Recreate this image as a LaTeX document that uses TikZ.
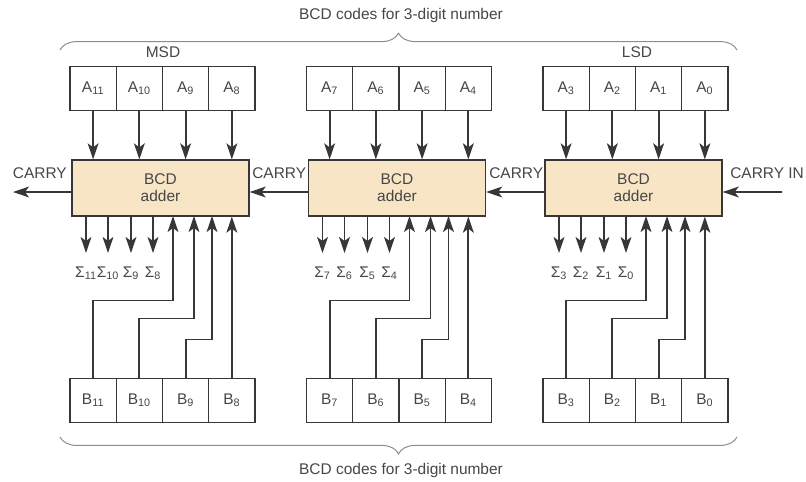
\documentclass[tikz,border=0pt]{standalone}
\usepackage{fontspec}
\setmainfont{Liberation Sans}
\usetikzlibrary{positioning,arrows.meta,decorations.pathreplacing}
\definecolor{linegray}{RGB}{55,55,55}
\definecolor{txtgray}{RGB}{70,70,70}
\definecolor{adderfill}{RGB}{247,229,198}
\definecolor{bracegray}{RGB}{140,140,140}

\begin{document}
\begin{tikzpicture}[x=0.025cm,y=-0.025cm,font=\fontsize{11}{13}\selectfont,
  lbl/.style={text=txtgray,inner sep=0pt},
  cell/.style={draw=linegray,line width=0.9pt,minimum width=1.156cm,minimum height=1.1cm,inner sep=0pt,outer sep=0pt,text=txtgray},
  adder/.style={draw=linegray,line width=0.9pt,fill=adderfill,minimum width=4.425cm,minimum height=1.4cm,align=center,text=txtgray,font=\fontsize{11}{12}\selectfont},
  arr/.style={draw=linegray,line width=1.3pt,-{Stealth[length=4mm,width=2.7mm,inset=1mm]}},
  brc/.style={draw=bracegray,line width=0.7pt,decorate,decoration={brace,amplitude=0.42cm}}]
  \useasboundingbox (0,0) rectangle (806,481);
  % registry A (nahore)
  \node[cell] (a11) at (93.1,88.5) {A\textsubscript{11}}; \node[cell,right=0pt of a11] (a10) {A\textsubscript{10}};
  \node[cell,right=0pt of a10] (a9) {A\textsubscript{9}}; \node[cell,right=0pt of a9] (a8) {A\textsubscript{8}};
  \node[cell] (a7) at (329.6,88.5) {A\textsubscript{7}}; \node[cell,right=0pt of a7] (a6) {A\textsubscript{6}};
  \node[cell,right=0pt of a6] (a5) {A\textsubscript{5}}; \node[cell,right=0pt of a5] (a4) {A\textsubscript{4}};
  \node[cell] (a3) at (566.1,88.5) {A\textsubscript{3}}; \node[cell,right=0pt of a3] (a2) {A\textsubscript{2}};
  \node[cell,right=0pt of a2] (a1) {A\textsubscript{1}}; \node[cell,right=0pt of a1] (a0) {A\textsubscript{0}};
  % registry B (dole)
  \node[cell] (b11) at (93.1,400.5) {B\textsubscript{11}}; \node[cell,right=0pt of b11] (b10) {B\textsubscript{10}};
  \node[cell,right=0pt of b10] (b9) {B\textsubscript{9}}; \node[cell,right=0pt of b9] (b8) {B\textsubscript{8}};
  \node[cell] (b7) at (329.6,400.5) {B\textsubscript{7}}; \node[cell,right=0pt of b7] (b6) {B\textsubscript{6}};
  \node[cell,right=0pt of b6] (b5) {B\textsubscript{5}}; \node[cell,right=0pt of b5] (b4) {B\textsubscript{4}};
  \node[cell] (b3) at (566.1,400.5) {B\textsubscript{3}}; \node[cell,right=0pt of b3] (b2) {B\textsubscript{2}};
  \node[cell,right=0pt of b2] (b1) {B\textsubscript{1}}; \node[cell,right=0pt of b1] (b0) {B\textsubscript{0}};
  % scitacky
  \node[adder] (add2) at (160.5,188) {BCD\\adder};
  \node[adder] (add1) at (397,188) {BCD\\adder};
  \node[adder] (add0) at (633.5,188) {BCD\\adder};
  % vstupy A
  \foreach \r/\s in {a11/add2,a10/add2,a9/add2,a8/add2,a7/add1,a6/add1,a5/add1,a4/add1,a3/add0,a2/add0,a1/add0,a0/add0}
    \draw[arr] (\r.south) -- (\r.south |- \s.north);
  % prenosy
  \coordinate (cout) at (13,192); \coordinate (cin) at (782,192);
  \draw[arr] ([yshift=-0.1cm]add2.west) -- (cout);
  \draw[arr] ([yshift=-0.1cm]add1.west) -- ([yshift=-0.1cm]add2.east);
  \draw[arr] ([yshift=-0.1cm]add0.west) -- ([yshift=-0.1cm]add1.east);
  \draw[arr] (cin) -- ([yshift=-0.1cm]add0.east);
  \node[lbl,anchor=east] (c3) at (67,173) {CARRY};
  \node[lbl,anchor=west] (c2) at (252,173) {CARRY};
  \node[lbl,anchor=west] (c1) at (489,173) {CARRY};
  \node[lbl,anchor=west] (c0) at (730,173) {CARRY IN};
  % vystupy souctu
  \coordinate (o11) at (86,253); \coordinate (o10) at (108,253); \coordinate (o9) at (131,253); \coordinate (o8) at (153,253);
  \coordinate (o7) at (322.5,253); \coordinate (o6) at (344.5,253); \coordinate (o5) at (367.5,253); \coordinate (o4) at (389.5,253);
  \coordinate (o3) at (559,253); \coordinate (o2) at (581,253); \coordinate (o1) at (604,253); \coordinate (o0) at (626,253);
  \foreach \o/\s in {11/add2,10/add2,9/add2,8/add2,7/add1,6/add1,5/add1,4/add1,3/add0,2/add0,1/add0,0/add0} {
    \draw[arr] (o\o |- \s.south) -- (o\o);
    \node[text=txtgray,below=6pt of o\o] (s\o) {Σ\textsubscript{\o}};
  }
  % vstupy B (lomene vodice)
  \coordinate (i11) at (173,216); \coordinate (i10) at (194,216); \coordinate (i9) at (212,216);
  \coordinate (i7) at (409.5,216); \coordinate (i6) at (430.5,216); \coordinate (i5) at (448.5,216);
  \coordinate (i3) at (646,216); \coordinate (i2) at (667,216); \coordinate (i1) at (685,216);
  \draw[arr] (b11.north) -- ++(0,-78) -| (i11); \draw[arr] (b10.north) -- ++(0,-60) -| (i10);
  \draw[arr] (b9.north) -- ++(0,-39) -| (i9); \draw[arr] (b8.north) -- (b8.north |- add2.south);
  \draw[arr] (b7.north) -- ++(0,-78) -| (i7); \draw[arr] (b6.north) -- ++(0,-60) -| (i6);
  \draw[arr] (b5.north) -- ++(0,-39) -| (i5); \draw[arr] (b4.north) -- (b4.north |- add1.south);
  \draw[arr] (b3.north) -- ++(0,-78) -| (i3); \draw[arr] (b2.north) -- ++(0,-60) -| (i2);
  \draw[arr] (b1.north) -- ++(0,-39) -| (i1); \draw[arr] (b0.north) -- (b0.north |- add0.south);
  % slozene zavorky a popisky
  \draw[brc] (60,50) -- (737,50);
  \draw[brc] (737,437) -- (60,437);
  \node[lbl] (ttop) at (401,15) {BCD codes for 3-digit number};
  \node[lbl] (tbot) at (401,470) {BCD codes for 3-digit number};
  \node[lbl] (msd) at (163,52) {MSD};
  \node[lbl] (lsd) at (637,52) {LSD};
\end{tikzpicture}
\end{document}
